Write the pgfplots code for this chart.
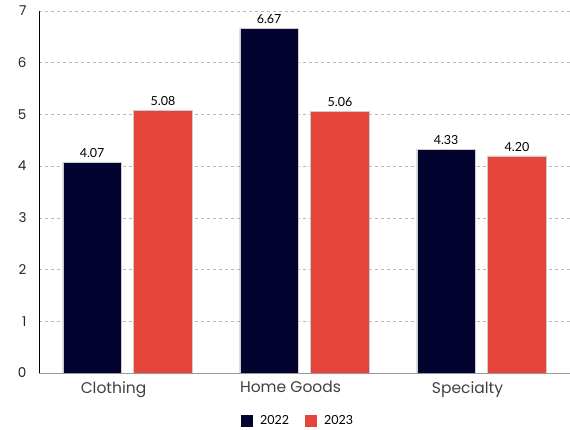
\documentclass[border=0pt]{standalone}
\usepackage{fontspec}
\setmainfont{Lato}
\newfontfamily\catfont{Poppins}
\usepackage{pgfplots}
\pgfplotsset{compat=1.18}
\definecolor{navy}{HTML}{03032F}
\definecolor{redb}{HTML}{E4443A}
\definecolor{gridc}{HTML}{BBBBBB}
\begin{document}
\begin{tikzpicture}[x=1pt,y=1pt]
\path[use as bounding box] (-39,-57) rectangle (531,373);
\begin{axis}[
  at={(0,0)}, anchor=south west,
  scale only axis, width=531pt, height=362pt,
  xmin=-0.5, xmax=2.5, ymin=0, ymax=7,
  xtick={0,1,2}, xticklabels={Clothing,Home Goods,Specialty},
  ytick={0,1,...,7},
  ymajorgrids, grid style={gridc, dashed, line width=0.6pt},
  major tick length=0pt,
  axis x line*=bottom, axis y line*=left,
  x axis line style={draw=gray!80, line width=0.8pt},
  y axis line style={draw=black, line width=0.8pt},
  x tick label style={font=\catfont\fontsize{15.5}{18}\selectfont, text=black!75, yshift=-5pt, xshift=-14pt},
  y tick label style={font=\catfont\fontsize{13.5}{15}\selectfont, text=black!85, xshift=-9pt},
  /pgf/number format/assume math mode=true,
  ybar=0pt, bar width=0.33,
  nodes near coords,
  nodes near coords style={font=\fontsize{12.5}{14}\selectfont, text=black, /pgf/number format/fixed, /pgf/number format/fixed zerofill, /pgf/number format/precision=2, yshift=1pt},
  legend style={at={(0.488,-0.133)}, anchor=center, draw=none, legend columns=2, font=\fontsize{12.5}{14}\selectfont,
    /tikz/every odd column/.append style={column sep=5pt},
    /tikz/every even column/.append style={column sep=14pt}},
  legend image code/.code={\fill[#1,draw=none] (0pt,-6pt) rectangle (12pt,6pt);},
]
\addplot[fill=navy, draw=gray!40, line width=0.4pt, bar shift=-0.2] coordinates {(0,4.07) (1,6.67) (2,4.33)};
\addplot[fill=redb, draw=gray!40, line width=0.4pt, bar shift=0.2] coordinates {(0,5.08) (1,5.06) (2,4.20)};
\legend{2022,2023}
\end{axis}
\end{tikzpicture}
\end{document}
